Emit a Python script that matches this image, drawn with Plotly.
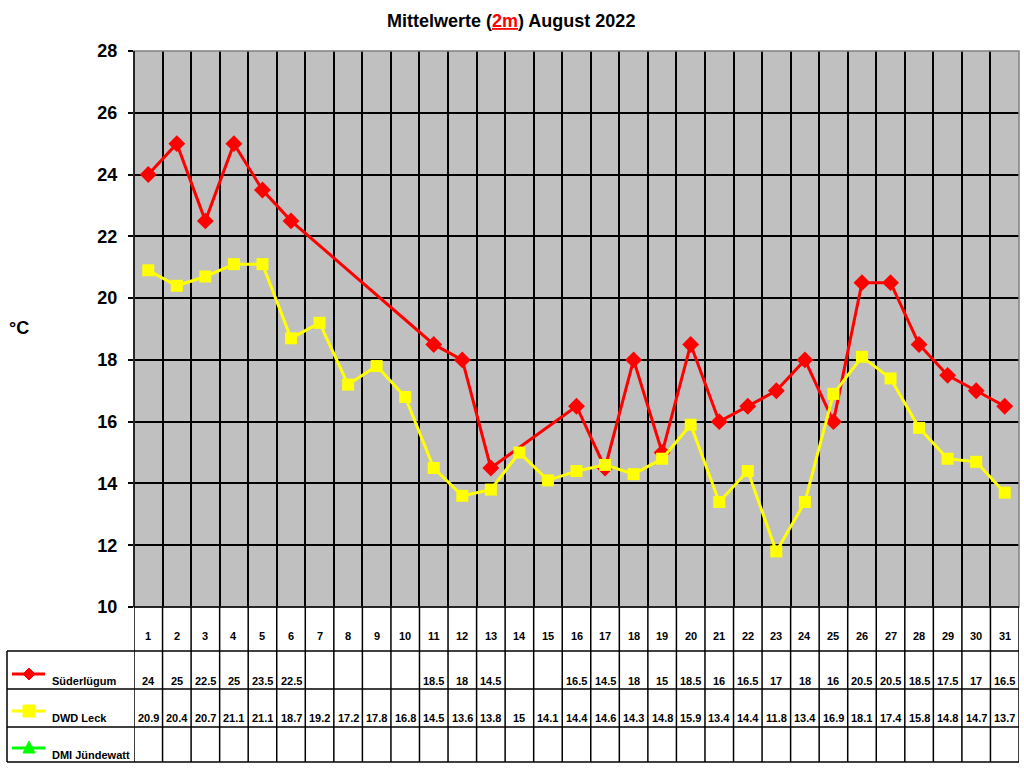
import plotly.graph_objects as go

days = list(range(1, 32))
sued = [24, 25, 22.5, 25, 23.5, 22.5, None, None, None, None, 18.5, 18, 14.5, None, None,
        16.5, 14.5, 18, 15, 18.5, 16, 16.5, 17, 18, 16, 20.5, 20.5, 18.5, 17.5, 17, 16.5]
leck = [20.9, 20.4, 20.7, 21.1, 21.1, 18.7, 19.2, 17.2, 17.8, 16.8, 14.5, 13.6, 13.8, 15, 14.1,
        14.4, 14.6, 14.3, 14.8, 15.9, 13.4, 14.4, 11.8, 13.4, 16.9, 18.1, 17.4, 15.8, 14.8, 14.7, 13.7]
jund = [None] * 31
series_names = ["Süderlügum", "DWD Leck", "DMI Jündewatt"]
series_vals = [sued, leck, jund]
colors = ["#FF0000", "#FFFF00", "#00FF00"]
symbols = ["diamond", "square", "triangle-up"]
yticks = list(range(10, 29, 2))

W, H = 1024, 768
def px(x): return x / W
def py(y): return 1 - y / H

FONT = "Arial, Liberation Sans, sans-serif"
PL, PR, PT, PB = 134, 1019, 51, 607
rows_y = [651, 689, 727, 762]

fig = go.Figure()
for name, vals, c, s in zip(series_names, series_vals, colors, symbols):
    fig.add_trace(go.Scatter(
        x=days, y=vals, mode="lines+markers", name=name, connectgaps=True,
        line=dict(color=c, width=3),
        marker=dict(symbol=s, size=12 if s != "diamond" else 13, color=c),
        showlegend=False, cliponaxis=False))

shapes = []
# legend keys (line + marker glyph), page pixel coordinates
key_y = [674, 711, 748]
def pth(pts):
    return "M " + " L ".join("%f,%f" % (px(a), py(b)) for a, b in pts) + " Z"
for c, s, ky in zip(colors, symbols, key_y):
    shapes.append(dict(type="line", xref="paper", yref="paper", x0=px(12), x1=px(45),
                       y0=py(ky), y1=py(ky), line=dict(color=c, width=3)))
    cx = 29
    if s == "diamond":
        pts = [(cx, ky - 6), (cx + 6, ky), (cx, ky + 6), (cx - 6, ky)]
    elif s == "square":
        pts = [(cx - 6, ky - 6), (cx + 6, ky - 6), (cx + 6, ky + 6), (cx - 6, ky + 6)]
    else:
        pts = [(cx, ky - 7), (cx + 6, ky + 5), (cx - 6, ky + 5)]
    shapes.append(dict(type="path", xref="paper", yref="paper", path=pth(pts),
                       fillcolor=c, line=dict(color=c, width=1)))
# plot border
shapes.append(dict(type="rect", xref="paper", yref="paper", x0=px(PL), x1=px(PR), y0=py(PB), y1=py(PT),
                   line=dict(color="#808080", width=1.5), layer="above"))
shapes.append(dict(type="line", xref="paper", yref="paper", x0=px(PL), x1=px(PL), y0=py(PB), y1=py(PT),
                   line=dict(color="black", width=1.5), layer="above"))
shapes.append(dict(type="line", xref="paper", yref="paper", x0=px(PL), x1=px(PR), y0=py(PB), y1=py(PB),
                   line=dict(color="black", width=1.5), layer="above"))
# table vertical lines
for i in range(0, 32):
    shapes.append(dict(type="line", xref="x", yref="paper", x0=i + 0.5, x1=i + 0.5,
                       y0=py(PB), y1=py(rows_y[-1]), line=dict(color="black", width=1.5)))
# table horizontal lines
for ry in rows_y:
    shapes.append(dict(type="line", xref="paper", yref="paper", x0=px(7), x1=px(PR),
                       y0=py(ry), y1=py(ry), line=dict(color="black", width=1.5)))
shapes.append(dict(type="line", xref="paper", yref="paper", x0=px(7), x1=px(7),
                   y0=py(rows_y[0]), y1=py(rows_y[-1]), line=dict(color="black", width=1.5)))

ann = []
tfont = dict(family=FONT, size=11, color="black")
for d in days:
    ann.append(dict(x=d, y=py(636), xref="x", yref="paper", text="<b>%d</b>" % d,
                    showarrow=False, font=tfont, xanchor="center", yanchor="middle"))
val_y = [681, 718, 755]
for name, vals, vy in zip(series_names, series_vals, val_y):
    ann.append(dict(x=px(50), y=py(vy), xref="paper", yref="paper", text="<b>%s</b>" % name,
                    showarrow=False, font=dict(family=FONT, size=11, color="black"),
                    xanchor="left", yanchor="middle"))
    for d, v in zip(days, vals):
        if v is None:
            continue
        t = ("%g" % v)
        ann.append(dict(x=d, y=py(vy), xref="x", yref="paper", text="<b>%s</b>" % t,
                        showarrow=False, font=tfont, xanchor="center", yanchor="middle"))
ann.append(dict(x=px(19), y=py(328), xref="paper", yref="paper", text="<b>°C</b>",
                showarrow=False, font=dict(family=FONT, size=18, color="black"),
                xanchor="center", yanchor="middle"))
ann.append(dict(x=px(511), y=py(21), xref="paper", yref="paper",
                text="<b>Mittelwerte (<span style='color:#FF0000'><u>2m</u></span>) August 2022</b>",
                showarrow=False, font=dict(family=FONT, size=18, color="black"),
                xanchor="center", yanchor="middle"))

fig.update_layout(
    width=W, height=H, margin=dict(l=0, r=0, t=0, b=0, autoexpand=False),
    paper_bgcolor="white", plot_bgcolor="#C0C0C0",
    xaxis=dict(domain=[px(PL), px(PR)], range=[0.5, 31.5], tickvals=[i + 0.5 for i in range(1, 31)],
               showticklabels=False, showgrid=True, gridcolor="black", gridwidth=1.5,
               zeroline=False, ticks="", showline=False),
    yaxis=dict(domain=[py(PB), py(PT)], range=[10, 28], tickvals=yticks,
               ticktext=["<b>%d</b>" % t for t in yticks],
               tickfont=dict(family=FONT, size=18, color="black"),
               showgrid=True, gridcolor="black", gridwidth=1.5, zeroline=False,
               ticks="outside", ticklen=5, tickcolor="black", tickwidth=1.5, showline=False,
               ticklabelstandoff=7),
    shapes=shapes, annotations=ann,
)
fig.write_html("out.html", config={"displayModeBar": False},
               post_script="document.body.style.margin='0px';document.body.style.overflow='hidden';")
